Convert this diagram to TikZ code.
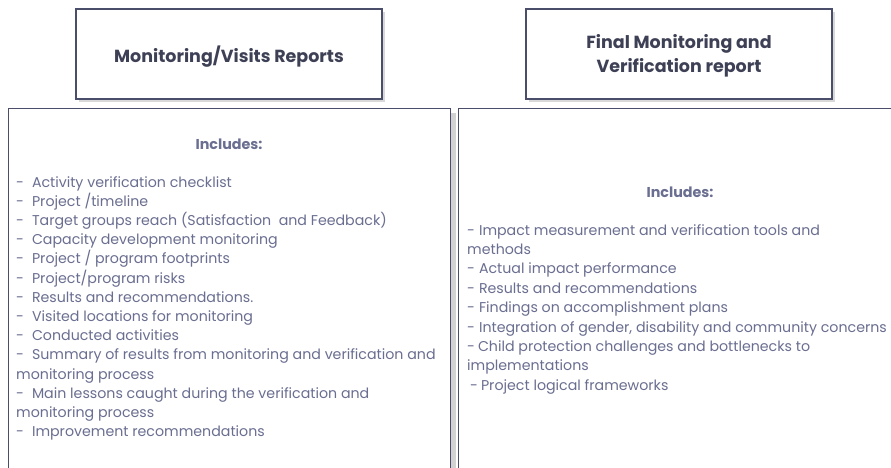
\documentclass[tikz,border=0pt]{standalone}
\usepackage{fontspec}
\setmainfont{Poppins}
\usetikzlibrary{shadows}
\definecolor{bordc}{HTML}{4A4E6A}
\definecolor{headc}{HTML}{3E4156}
\definecolor{listc}{HTML}{6A6E90}
\tikzset{
  hbox/.style={draw=bordc, line width=1.1pt, fill=white, minimum width=306pt, minimum height=90pt,
    drop shadow={shadow xshift=3pt, shadow yshift=-3pt, fill=black!30}},
  bigbox/.style={draw=bordc, line width=1.1pt, fill=white, anchor=north west, inner sep=0pt,
    drop shadow={shadow xshift=5pt, shadow yshift=-4pt, fill=black!35}},
  htext/.style={text=headc, font=\fontsize{17.5}{24}\selectfont\bfseries, align=center},
  inctext/.style={text=listc, font=\fontsize{14.3}{16}\selectfont\bfseries, anchor=base},
  ltext/.style={text=listc, font=\fontsize{14.2}{16}\selectfont, anchor=base west, inner sep=0pt}
}
\begin{document}
\begin{tikzpicture}[x=1pt,y=-1pt]
\useasboundingbox (0,0) rectangle (891,467);
\clip (0,0) rectangle (891,467);
\fill[white] (0,0) rectangle (891,467);
% big boxes
\node[bigbox, minimum width=442pt, minimum height=380pt] (b1) at (8,108) {};
\node[bigbox, minimum width=450pt, minimum height=380pt] (b2) at (458,108) {};
% headers
\node[hbox] (h1) at (229,54) {};
\node[htext, anchor=base] (t1) at (229,62) {Monitoring/Visits Reports};
\node[hbox] (h2) at (679,54) {};
\node[htext, anchor=base] (t2a) at (679,48) {Final Monitoring and};
\node[htext, anchor=base] (t2b) at (679,72) {Verification report};
% includes
\node[inctext] (i1) at (229,149) {Includes:};
\node[inctext] (i2) at (680,197) {Includes:};
% left list
\foreach \t [count=\i from 0] in {
  {-\hspace{8pt}Activity verification checklist},
  {-\hspace{8pt}Project /timeline},
  {-\hspace{8pt}Target groups reach (Satisfaction\ \ and Feedback)},
  {-\hspace{8pt}Capacity development monitoring},
  {-\hspace{8pt}Project / program footprints},
  {-\hspace{8pt}Project/program risks},
  {-\hspace{8pt}Results and recommendations.},
  {-\hspace{8pt}Visited locations for monitoring},
  {-\hspace{8pt}Conducted activities},
  {-\hspace{8pt}Summary of results from monitoring and verification and},
  {monitoring process},
  {-\hspace{8pt}Main lessons caught during the verification and},
  {monitoring process},
  {-\hspace{8pt}Improvement recommendations}}
  \node[ltext] (l\i) at (16,{187+19.2*\i}) {\t};
% right list
\foreach \t [count=\i from 0] in {
  {-\hspace{4pt}Impact measurement and verification tools and},
  {methods},
  {-\hspace{4pt}Actual impact performance},
  {-\hspace{4pt}Results and recommendations},
  {-\hspace{4pt}Findings on accomplishment plans},
  {-\hspace{4pt}Integration of gender, disability and community concerns},
  {-\hspace{3pt}Child protection challenges and bottlenecks to},
  {implementations},
  {\hspace{3pt}-\hspace{3pt}Project logical frameworks}}
  \node[ltext] (r\i) at (467,{235+19.4*\i}) {\t};
\end{tikzpicture}
\end{document}
